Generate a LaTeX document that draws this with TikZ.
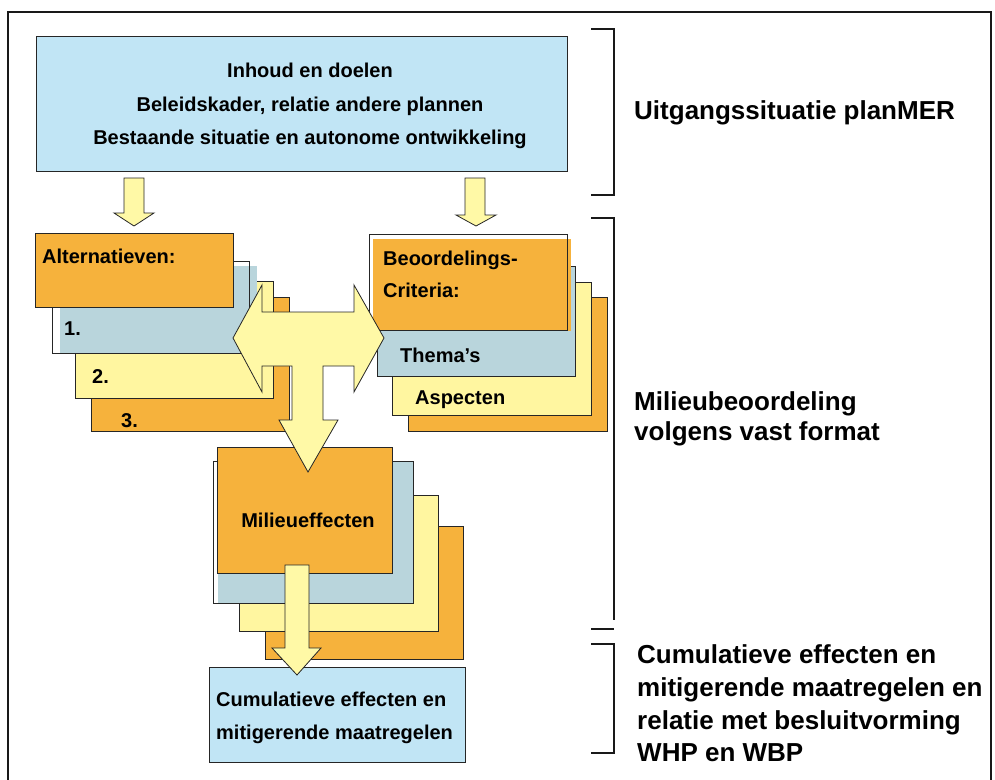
\documentclass[tikz,border=0pt]{standalone}
\usepackage{fontspec}
\setmainfont{Liberation Sans}
\definecolor{skyb}{RGB}{193,229,245}
\definecolor{greyb}{RGB}{185,213,220}
\definecolor{orng}{RGB}{246,178,60}
\definecolor{yell}{RGB}{255,246,160}
\definecolor{arryel}{RGB}{255,249,166}
\tikzset{
  box/.style={draw=black!85, line width=0.8pt, inner sep=0pt, outer sep=0pt, anchor=north west},
  lbl/.style={anchor=base west, inner sep=0pt, font=\fontsize{20}{24}\selectfont\bfseries},
  clbl/.style={anchor=base, inner sep=0pt, font=\fontsize{20}{24}\selectfont\bfseries},
  biglbl/.style={anchor=base west, inner sep=0pt, font=\fontsize{26}{31}\selectfont\bfseries},
  barrow/.style={fill=arryel, draw=black!85, line width=0.8pt, line join=miter},
  brk/.style={line width=2.3pt, draw=black!90},
  frm/.style={line width=1.8pt, draw=black!90},
}
\begin{document}
\begin{tikzpicture}[x=1pt,y=-1pt]
\useasboundingbox (0,0) rectangle (995,779);
% frame
\draw[frm] (8,782) -- (8,12) -- (991,12) -- (991,782);

% top box
\node[box, fill=skyb, minimum width=531pt, minimum height=135pt] (top) at (36,36) {};
\node[clbl] (t1) at (310,77) {Inhoud en doelen};
\node[clbl] (t2) at (310,111) {Beleidskader, relatie andere plannen};
\node[clbl] (t3) at (310,144) {Bestaande situatie en autonome ontwikkeling};

% down arrows from top box
\draw[barrow] (124,178) -- (144,178) -- (144,213) -- (154,213) -- (134,226) -- (114,213) -- (124,213) -- cycle;
\draw[barrow] (465,178) -- (485,178) -- (485,215) -- (496,215) -- (476,226) -- (456,215) -- (465,215) -- cycle;

% left stack
\node[box, fill=orng, minimum width=198pt, minimum height=134pt] (L3) at (91,297) {};
\draw[draw=black!85, line width=0.8pt] (293,366) -- (293,420);
\node[lbl] (L3t) at (121,427) {3.};
\node[box, fill=yell, minimum width=198pt, minimum height=117pt] (L2) at (75,281) {};
\node[lbl] (L2t) at (92,383) {2.};
\fill[greyb] (60,266) rectangle (257,353);
\node[box, minimum width=197pt, minimum height=92pt] (L1) at (52,261) {};
\node[lbl] (L1t) at (64,335) {1.};
\node[box, fill=orng, minimum width=198pt, minimum height=74pt] (alt) at (35,233) {};
\node[lbl] (altt) at (42,263) {Alternatieven:};

% right stack
\node[box, fill=orng, minimum width=199pt, minimum height=134pt] (R3) at (408,297) {};
\node[box, fill=yell, minimum width=199pt, minimum height=133pt] (R2) at (392,282) {};
\node[lbl] (R2t) at (415,404) {Aspecten};
\node[box, fill=greyb, minimum width=198pt, minimum height=110pt] (R1) at (377,266) {};
\node[lbl] (R1t) at (400,362) {Thema’s};
\fill[orng] (373,239) rectangle (571,331);
\node[box, minimum width=198pt, minimum height=96pt] (beo) at (369,234) {};
\node[lbl] (beot1) at (383,265) {Beoordelings-};
\node[lbl] (beot2) at (383,297) {Criteria:};

% milieu stack
\node[box, fill=orng, minimum width=198pt, minimum height=133pt] (M3) at (265,526) {};
\node[box, fill=yell, minimum width=199pt, minimum height=136pt] (M2) at (239,495) {};
\fill[greyb] (218,461) rectangle (413,603);
\node[box, minimum width=200pt, minimum height=142pt] (M1) at (213,461) {};
\node[box, fill=orng, minimum width=175pt, minimum height=126pt] (M0) at (217,447) {};
\node[clbl] (M0t) at (308,527) {Milieueffecten};

% T-shaped arrow
\draw[barrow] (233,338) -- (262,285) -- (262,312) -- (354,312) -- (354,285) -- (384,338)
  -- (354,392) -- (354,366) -- (323,366) -- (323,420) -- (338,420) -- (308,472)
  -- (279,420) -- (292,420) -- (292,366) -- (262,366) -- (262,392) -- cycle;

% bottom box
\node[box, fill=skyb, minimum width=256pt, minimum height=95pt] (bot) at (209,667) {};
\node[lbl] (bot1) at (216,706) {Cumulatieve effecten en};
\node[lbl] (bot2) at (216,739) {mitigerende maatregelen};

% down arrow to bottom box (drawn on top of it)
\draw[barrow] (285,565) -- (309,565) -- (309,648) -- (321,648) -- (297,675) -- (272,648) -- (285,648) -- cycle;

% brackets
\draw[brk] (591,29) -- (614,29) -- (614,195) -- (591,195);
\draw[brk] (591,218) -- (614,218) -- (614,620);
\draw[brk] (591,629) -- (614,629);
\draw[brk] (591,644) -- (614,644) -- (614,753) -- (591,753);

% right labels
\node[biglbl] (r1) at (634,119) {Uitgangssituatie planMER};
\node[biglbl] (r2a) at (634,410) {Milieubeoordeling};
\node[biglbl] (r2b) at (634,440) {volgens vast format};
\node[biglbl] (r3a) at (637,663) {Cumulatieve effecten en};
\node[biglbl] (r3b) at (637,696) {mitigerende maatregelen en};
\node[biglbl] (r3c) at (637,729) {relatie met besluitvorming};
\node[biglbl] (r3d) at (637,761) {WHP en WBP};
\end{tikzpicture}
\end{document}
